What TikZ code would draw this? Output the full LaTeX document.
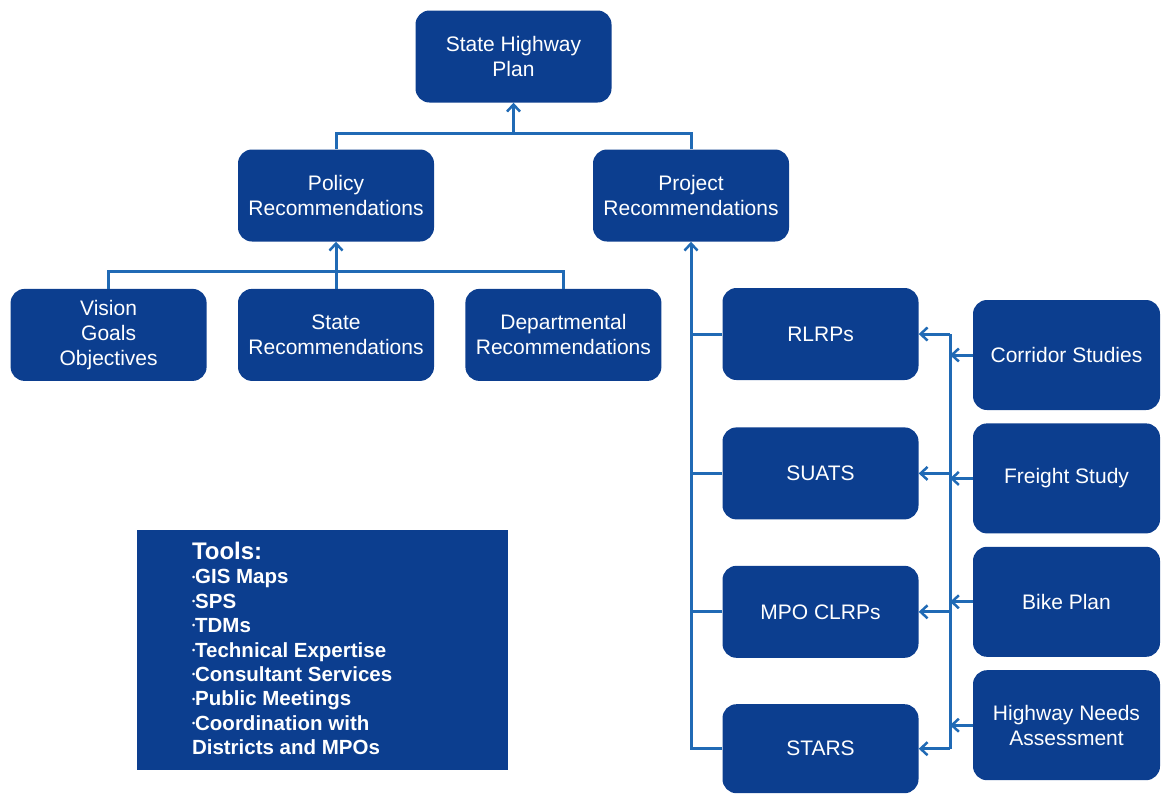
\documentclass[tikz,border=0pt]{standalone}
\usepackage{fontspec}
\setmainfont{Liberation Sans}
\usetikzlibrary{arrows.meta,positioning,calc}
\definecolor{boxblue}{RGB}{12,62,143}
\definecolor{lineblue}{RGB}{32,106,181}
\newcommand{\tbul}{\raisebox{0.35ex}{\fontsize{9}{9}\selectfont\textbullet}}

\begin{document}
\begin{tikzpicture}[
    x=1pt,y=1pt,
    block/.style={rectangle,fill=boxblue,text=white,minimum width=196pt,minimum height=92pt,align=center,
        font=\fontsize{21}{25}\selectfont,rounded corners=14pt,inner sep=2pt},
    sideblock/.style={block,minimum width=187pt,minimum height=110pt},
    link/.style={draw=lineblue,line width=3pt},
    arrow/.style={link,-{Straight Barb[length=7pt,width=13pt,line width=2.5pt]}}
]
    \useasboundingbox (0,0) rectangle (1161,-793);

    \node[block] (shp) at (513.5,-56.5) {State Highway\\Plan};

    \node[block] (policy) at (336,-195.5) {Policy\\Recommendations};
    \node[block] (project) at (691,-195.5) {Project\\Recommendations};

    \node[block,below=47pt of policy] (staterec) {State\\Recommendations};
    \node[block,left=31pt of staterec] (vision) {Vision\\Goals\\Objectives};
    \node[block,right=31pt of staterec] (deptrec) {Departmental\\Recommendations};

    \node[block] (rlrps) at (820.5,-334) {RLRPs};
    \node[block,below=47pt of rlrps] (suats) {SUATS};
    \node[block,below=46pt of suats] (mpo) {MPO CLRPs};
    \node[block,below=46pt of mpo,minimum height=89pt] (stars) {STARS};

    \node[sideblock] (corridor) at (1066.5,-355) {Corridor Studies};
    \node[sideblock,below=13pt of corridor] (freight) {Freight Study};
    \node[sideblock,below=13pt of freight] (bike) {Bike Plan};
    \node[sideblock,below=13pt of bike] (needs) {Highway Needs\\Assessment};

    \node[rectangle,fill=boxblue,minimum width=371pt,minimum height=240pt] (tools) at (322.5,-650) {};
    \node[anchor=north west,text=white,align=left,inner sep=0pt,
        font=\bfseries\fontsize{20.5}{24.4}\selectfont] (toollist) at ($(tools.north west)+(55,-12)$)
        {{\fontsize{24}{26}\selectfont Tools:}\\
         \tbul GIS Maps\\
         \tbul SPS\\
         \tbul TDMs\\
         \tbul Technical Expertise\\
         \tbul Consultant Services\\
         \tbul Public Meetings\\
         \tbul Coordination with\\
         Districts and MPOs};

    % buses
    \coordinate (topbus) at (513.5,-133);
    \coordinate (midbus) at (336,-271);
    \coordinate (rbus) at (950,0);

    \draw[link] (policy.north) |- (topbus) -| (project.north);
    \draw[arrow] (topbus) -- (shp.south);

    \draw[link] (vision.north) |- (midbus) -| (deptrec.north);
    \draw[arrow] (staterec.north) -- (policy.south);

    \draw[arrow] (stars.west) -| (project.south);
    \foreach \n in {rlrps,suats,mpo}
        \draw[link] (\n.west) -- (\n.west -| project.south);

    \draw[link] (rlrps.east -| rbus) -- (stars.east -| rbus);
    \foreach \n in {rlrps,suats,mpo,stars}
        \draw[arrow] (\n.east -| rbus) -- (\n.east);
    \foreach \n in {corridor,freight,bike,needs}
        \draw[arrow] (\n.west) -- (\n.west -| rbus);
\end{tikzpicture}
\end{document}
